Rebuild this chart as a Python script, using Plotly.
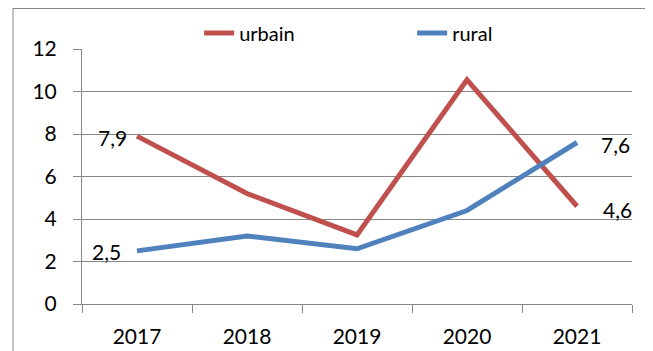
import plotly.graph_objects as go

years = ["2017", "2018", "2019", "2020", "2021"]
urbain = [7.9, 5.2, 3.25, 10.55, 4.6]
rural = [2.5, 3.2, 2.6, 4.4, 7.6]
urbain_labels = ["7,9", "", "", "", "4,6"]
rural_labels = ["2,5", "", "", "", "7,6"]
y_ticks = [0, 2, 4, 6, 8, 10, 12]

RED = "#C0504D"
BLUE = "#4F81BD"
GRID = "#878787"
FONT = "Lato, Calibri, Carlito, sans-serif"

fig = go.Figure()
fig.add_trace(go.Scatter(x=years, y=urbain, name="urbain", mode="lines",
                         line=dict(color=RED, width=5)))
fig.add_trace(go.Scatter(x=years, y=rural, name="rural", mode="lines",
                         line=dict(color=BLUE, width=5)))

annotations = []
# label placement styles: (xanchor, xshift, yshift) for first / last point
first_style = [("right", -8, -1), ("right", -14, -1)]
last_style = [("left", 24, -3), ("left", 22, -2)]
for si, (vals, labels) in enumerate([(urbain, urbain_labels), (rural, rural_labels)]):
    for i, lab in enumerate(labels):
        if not lab:
            continue
        if i == 0:
            xa, xs, ys = first_style[si]
        else:
            xa, xs, ys = last_style[si]
        annotations.append(dict(
            x=i, y=vals[i], xref="x", yref="y", text=lab, showarrow=False,
            xanchor=xa, yanchor="middle", xshift=xs, yshift=ys,
            font=dict(size=21, family=FONT, color="#000000"),
        ))

fig.update_layout(
    width=645, height=343,
    margin=dict(l=74, r=21, t=41, b=47, autoexpand=False),
    paper_bgcolor="white", plot_bgcolor="white",
    font=dict(family=FONT, size=21, color="#000000"),
    showlegend=True,
    legend=dict(
        orientation="h", x=0.213, xanchor="left", y=1.063, yanchor="middle",
        font=dict(size=20, family=FONT), bgcolor="rgba(0,0,0,0)",
        entrywidth=168, entrywidthmode="pixels", itemwidth=30,
    ),
    xaxis=dict(
        type="category", categoryorder="array", categoryarray=years,
        range=[-0.5, len(years) - 0.5], autorange=False, automargin=False,
        tickson="boundaries", ticks="outside", ticklen=8,
        tickcolor=GRID, showline=True, linecolor=GRID, linewidth=1,
        showgrid=False, tickfont=dict(size=21, family=FONT),
        ticklabelstandoff=14,
    ),
    yaxis=dict(
        range=[0, 12], tickvals=y_ticks, ticks="outside", ticklen=8, automargin=False,
        tickcolor=GRID, showline=True, linecolor=GRID, linewidth=1,
        showgrid=True, gridcolor=GRID, gridwidth=1, zeroline=False,
        tickfont=dict(size=21, family=FONT), ticklabelstandoff=12,
    ),
    annotations=annotations,
    shapes=[
        dict(type="line", xref="paper", yref="paper", x0=-0.12545, x1=1.2, y0=1.1588, y1=1.1588,
             line=dict(color=GRID, width=1)),
        dict(type="line", xref="paper", yref="paper", x0=-0.12545, x1=-0.12545, y0=-0.3, y1=1.1588,
             line=dict(color=GRID, width=1)),
    ],
)

fig.write_html("out.html", config={"displayModeBar": False})
